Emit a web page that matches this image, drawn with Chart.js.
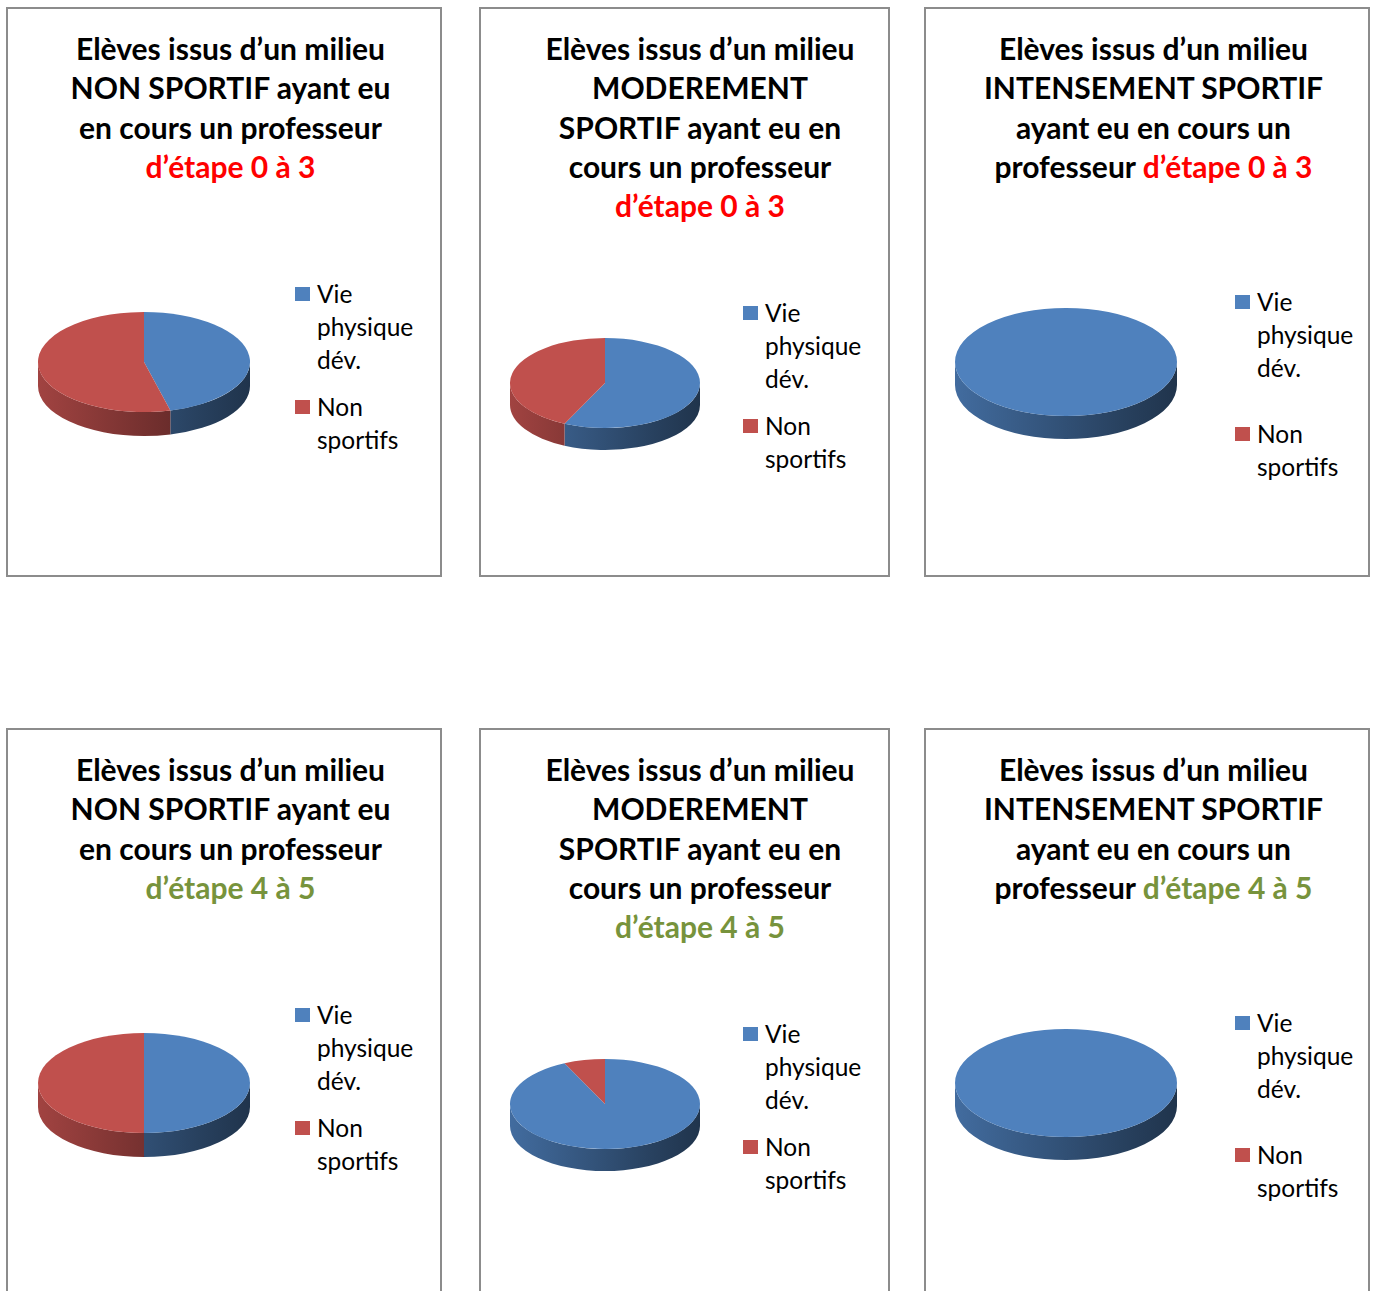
<!DOCTYPE html>
<html>
<head>
<meta charset="utf-8">
<script src="https://cdn.jsdelivr.net/npm/chart.js@4/dist/chart.umd.min.js"></script>
<style>
  body { margin: 0; background: #fff; }
  #page { position: relative; width: 1376px; height: 1291px; overflow: hidden; font-family: Lato, "Liberation Sans", sans-serif; }
  .panel { position: absolute; border: 2px solid #8c8c8c; box-sizing: border-box; background: #fff; }
  .title { position: absolute; width: 440px; text-align: center; font-weight: bold; font-size: 30px; line-height: 39.3px; color: #000; white-space: nowrap; }
  .legend { position: absolute; font-size: 24.5px; line-height: 33px; color: #000; }
  .legend .item { position: relative; padding-left: 22px; width: 110px; }
  .legend .box { position: absolute; left: 0; top: 10px; width: 15px; height: 14px; }
  .pie { position: absolute; }
</style>
</head>
<body>
<div id="page"></div>
<script>
// categories and values (percent) per chart
const labels = ['Vie physique dév.', 'Non sportifs'];
const vieValues = [46, 57, 100, 50, 93, 100];
const nonValues = [54, 43, 0, 50, 7, 0];
const colors = ['#4F81BD', '#C0504D'];

// title texts, the étape part is coloured
const titleLines = [
  ['Elèves issus d’un milieu', 'NON SPORTIF ayant eu', 'en cours un professeur', ''],
  ['Elèves issus d’un milieu', 'MODEREMENT', 'SPORTIF ayant eu en', 'cours un professeur', ''],
  ['Elèves issus d’un milieu', 'INTENSEMENT SPORTIF', 'ayant eu en cours un', 'professeur '],
  ['Elèves issus d’un milieu', 'NON SPORTIF ayant eu', 'en cours un professeur', ''],
  ['Elèves issus d’un milieu', 'MODEREMENT', 'SPORTIF ayant eu en', 'cours un professeur', ''],
  ['Elèves issus d’un milieu', 'INTENSEMENT SPORTIF', 'ayant eu en cours un', 'professeur ']
];
const etapes = ['d’étape 0 à 3', 'd’étape 0 à 3', 'd’étape 0 à 3', 'd’étape 4 à 5', 'd’étape 4 à 5', 'd’étape 4 à 5'];
const etapeColors = ['#FF0000', '#FF0000', '#FF0000', '#77933C', '#77933C', '#77933C'];

// layout of the three columns (top row), bottom row is shifted down
const rowShift = 721;
const cols = [
  {left: 6, width: 436, titleX: 230.5, cx: 144, cy: 362, rx: 106, ry: 50, depth: 24, legX: 295, legY: 293, gap: 14},
  {left: 479, width: 411, titleX: 700, cx: 605, cy: 383, rx: 95, ry: 45, depth: 22, legX: 743, legY: 312, gap: 14},
  {left: 924, width: 446, titleX: 1153.5, cx: 1066, cy: 362, rx: 111, ry: 54, depth: 23, legX: 1235, legY: 301, gap: 33}
];

function shade(hex, f) {
  const n = parseInt(hex.slice(1), 16);
  const r = Math.round(((n >> 16) & 255) * f);
  const g = Math.round(((n >> 8) & 255) * f);
  const b = Math.round((n & 255) * f);
  return 'rgb(' + r + ',' + g + ',' + b + ')';
}

// draws the side of the pie and squashes the top face into an ellipse
const pie3d = {
  id: 'pie3d',
  beforeDatasetsDraw(chart, args, opts) {
    const ctx = chart.ctx;
    const arcs = chart.getDatasetMeta(0).data;
    const cx = arcs[0].x, cy = arcs[0].y, r = arcs[0].outerRadius;
    const ry = r * opts.tilt;
    arcs.forEach((arc, i) => {
      const s = Math.max(arc.startAngle, 0);
      const e = Math.min(arc.endAngle, Math.PI);
      if (e <= s) return;
      const base = chart.data.datasets[0].backgroundColor[i];
      const grad = ctx.createLinearGradient(cx - r, 0, cx + r, 0);
      grad.addColorStop(0, shade(base, 0.84));
      grad.addColorStop(0.75, shade(base, 0.5));
      grad.addColorStop(1, shade(base, 0.4));
      ctx.beginPath();
      ctx.ellipse(cx, cy, r, ry, 0, s, e);
      ctx.ellipse(cx, cy + opts.depth, r, ry, 0, e, s, true);
      ctx.closePath();
      ctx.fillStyle = grad;
      ctx.fill();
    });
    ctx.save();
    ctx.translate(cx, cy);
    ctx.scale(1, opts.tilt);
    ctx.translate(-cx, -cy);
  },
  afterDatasetsDraw(chart) {
    chart.ctx.restore();
  }
};

const page = document.getElementById('page');

for (let i = 0; i < 6; i++) {
  const c = cols[i % 3];
  const dy = i < 3 ? 0 : rowShift;

  const panel = document.createElement('div');
  panel.className = 'panel';
  panel.style.left = c.left + 'px';
  panel.style.top = (7 + dy) + 'px';
  panel.style.width = c.width + 'px';
  panel.style.height = '570px';
  page.appendChild(panel);

  const title = document.createElement('div');
  title.className = 'title';
  title.style.left = (c.titleX - 220) + 'px';
  title.style.top = (29 + dy) + 'px';
  const lines = titleLines[i];
  lines.forEach((ln, j) => {
    const d = document.createElement('div');
    d.textContent = ln;
    if (j === lines.length - 1) {
      const sp = document.createElement('span');
      sp.style.color = etapeColors[i];
      sp.textContent = etapes[i];
      d.appendChild(sp);
    }
    title.appendChild(d);
  });
  page.appendChild(title);

  const legend = document.createElement('div');
  legend.className = 'legend';
  legend.style.left = c.legX + 'px';
  legend.style.top = (c.legY - 16.5 + dy) + 'px';
  labels.forEach((lab, j) => {
    const it = document.createElement('div');
    it.className = 'item';
    if (j > 0) it.style.marginTop = c.gap + 'px';
    it.innerHTML = '<span class="box" style="background:' + colors[j] + '"></span>';
    it.appendChild(document.createTextNode(lab));
    legend.appendChild(it);
  });
  page.appendChild(legend);

  const size = 2 * c.rx;
  const holder = document.createElement('div');
  holder.className = 'pie';
  holder.style.left = (c.cx - c.rx) + 'px';
  holder.style.top = (c.cy + dy - c.rx) + 'px';
  const canvas = document.createElement('canvas');
  canvas.width = size;
  canvas.height = size;
  holder.appendChild(canvas);
  page.appendChild(holder);

  new Chart(canvas.getContext('2d'), {
    type: 'pie',
    data: {
      labels: labels,
      datasets: [{
        data: [vieValues[i], nonValues[i]],
        backgroundColor: colors,
        borderWidth: 0
      }]
    },
    options: {
      responsive: false,
      animation: false,
      events: [],
      layout: {padding: 0},
      plugins: {
        legend: {display: false},
        tooltip: {enabled: false},
        pie3d: {tilt: c.ry / c.rx, depth: c.depth}
      }
    },
    plugins: [pie3d]
  });
}
</script>
</body>
</html>
